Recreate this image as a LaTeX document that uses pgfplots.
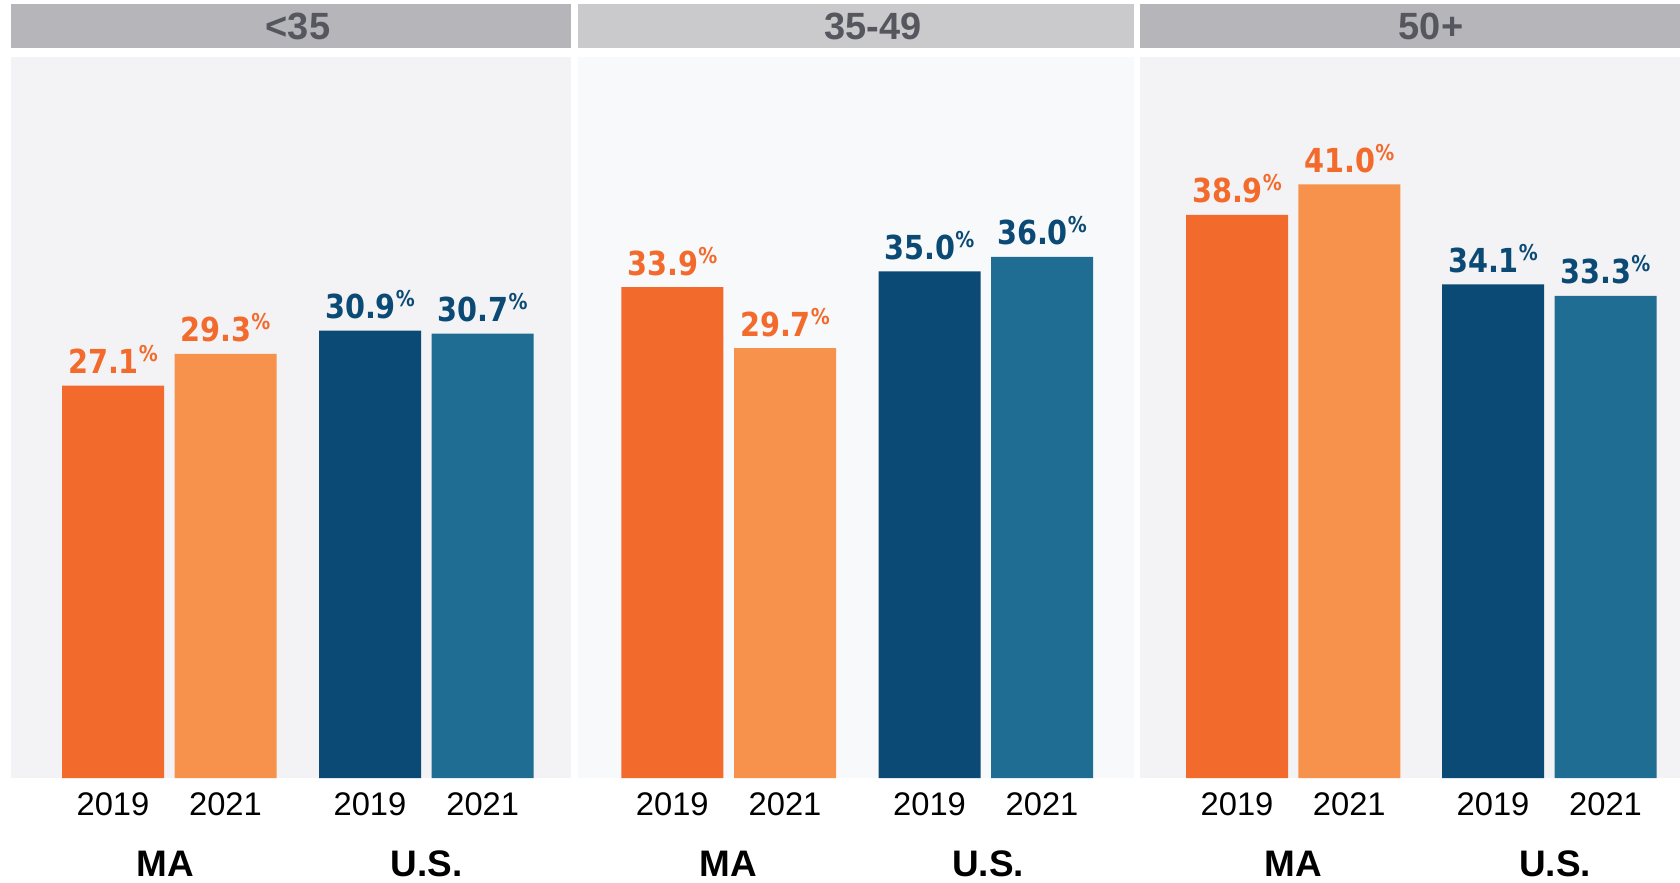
\documentclass[border=0pt]{standalone}
\usepackage{pgfplots}
\pgfplotsset{compat=1.18}
\usepackage{fontspec}
\setmainfont{Liberation Sans}
\newfontfamily\valfont{DejaVu Sans}
\definecolor{maA}{HTML}{F26B2D}
\definecolor{maB}{HTML}{F7924C}
\definecolor{usA}{HTML}{0B4A75}
\definecolor{usB}{HTML}{1F6D92}
\definecolor{hdrA}{HTML}{B6B5BA}
\definecolor{hdrB}{HTML}{CACACC}
\definecolor{bgA}{HTML}{F3F3F5}
\definecolor{bgB}{HTML}{F8F9FB}
\definecolor{hdrtxt}{HTML}{56565E}
\begin{document}
\begin{tikzpicture}
% panel backgrounds
\fill[bgA] (0.107,0) rectangle (5.71,7.21);
\fill[bgB] (5.775,0) rectangle (11.336,7.21);
\fill[bgA] (11.40,0) rectangle (16.80,7.21);
% headers
\fill[hdrA] (0.107,7.30) rectangle (5.71,7.737);
\fill[hdrB] (5.775,7.30) rectangle (11.336,7.737);
\fill[hdrA] (11.40,7.30) rectangle (16.80,7.737);
\node[text=hdrtxt,font=\fontsize{10.8}{12}\selectfont\bfseries] at (2.98,7.515) {<35};
\node[text=hdrtxt,font=\fontsize{10.8}{12}\selectfont\bfseries] at (8.73,7.515) {35-49};
\node[text=hdrtxt,font=\fontsize{10.8}{12}\selectfont\bfseries] at (14.31,7.515) {50+};
\begin{axis}[
  at={(0,0)}, anchor=south west,
  scale only axis, width=16.8cm, height=7.21cm,
  xmin=0, xmax=1680, ymin=0, ymax=49.8,
  clip=false,
  ybar, bar shift=0pt, bar width=1.02cm,
  axis line style={draw=none}, tick style={draw=none},
  ytick=\empty,
  /pgf/number format/assume math mode=true,
  xtick={113,225.5,370,482.7,672.3,785,929.5,1042,1237,1349.3,1493,1605.5},
  xticklabels={2019,2021,2019,2021,2019,2021,2019,2021,2019,2021,2019,2021},
  xticklabel style={anchor=center, yshift=-0.11cm, font=\fontsize{9.3}{10}\selectfont},
  nodes near coords={\scalebox{0.87}[1]{\pgfmathprintnumber[fixed,fixed zerofill,precision=1,assume math mode=true]{\pgfplotspointmeta}\raisebox{0.36em}{\fontsize{6.2}{6}\selectfont\%}}},
  every node near coord/.append style={anchor=base, yshift=0.12cm, inner sep=0pt, font=\valfont\bfseries\fontsize{9.4}{10}\selectfont},
]
\addplot[fill=maA, draw=none, every node near coord/.append style={text=maA}] coordinates {(113,27.1) (672.3,33.9) (1237,38.9)};
\addplot[fill=maB, draw=none, every node near coord/.append style={text=maA}] coordinates {(225.5,29.3) (785,29.7) (1349.3,41.0)};
\addplot[fill=usA, draw=none, every node near coord/.append style={text=usA}] coordinates {(370,30.9) (929.5,35.0) (1493,34.1)};
\addplot[fill=usB, draw=none, every node near coord/.append style={text=usA}] coordinates {(482.7,30.7) (1042,36.0) (1605.5,33.3)};
\end{axis}
\begin{scope}[every node/.style={font=\fontsize{10.5}{12}\selectfont\bfseries}]
\node at (1.65,-0.86) {MA};
\node at (4.264,-0.86) {U.S.};
\node at (7.286,-0.86) {MA};
\node at (9.88,-0.86) {U.S.};
\node at (12.93,-0.86) {MA};
\node at (15.55,-0.86) {U.S.};
\end{scope}
\pgfresetboundingbox
\path (0,-1.04) rectangle (16.8,7.78);
\end{tikzpicture}
\end{document}
